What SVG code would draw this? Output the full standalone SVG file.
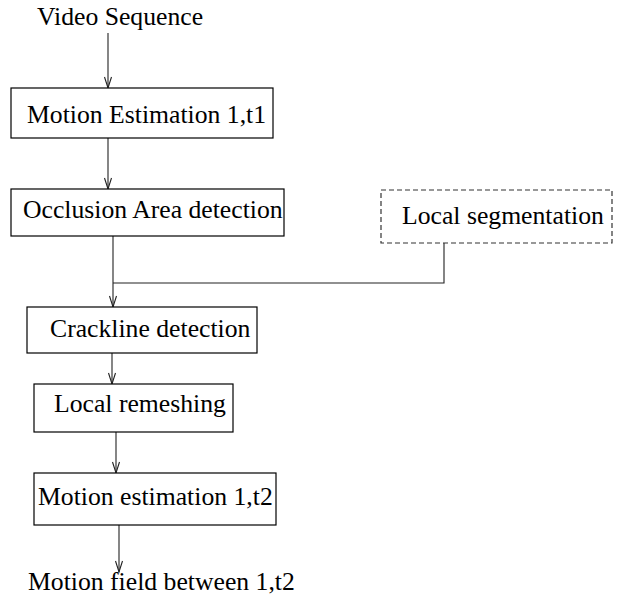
<svg xmlns="http://www.w3.org/2000/svg" width="620" height="605" viewBox="0 0 620 605">
<style>
  text { font-family: "Liberation Serif", "Times New Roman", serif; font-size: 25.7px; fill: #000; }
  .box { fill: #fff; stroke: #000; stroke-width: 1.2; }
  .dash { fill: #fff; stroke: #333; stroke-width: 1.2; stroke-dasharray: 5 3; }
  .conn { fill: none; stroke: #222; stroke-width: 1.1; }
</style>
<defs>
  <marker id="arr" markerUnits="userSpaceOnUse" viewBox="-12 -6 14 12" markerWidth="14" markerHeight="12" refX="0" refY="0" orient="auto" overflow="visible">
    <path d="M-11,-3.5 L0,0 L-11,3.5" fill="none" stroke="#222" stroke-width="1.1"/>
  </marker>
</defs>
<rect width="620" height="605" fill="#fff"/>
<g id="connectors">
  <line class="conn" x1="108" y1="33" x2="108" y2="88" marker-end="url(#arr)"/>
  <line class="conn" x1="108" y1="138" x2="108" y2="189" marker-end="url(#arr)"/>
  <line class="conn" x1="113" y1="236" x2="113" y2="307" marker-end="url(#arr)"/>
  <polyline class="conn" points="444,243 444,283 113,283"/>
  <line class="conn" x1="112" y1="353" x2="112" y2="384" marker-end="url(#arr)"/>
  <line class="conn" x1="116" y1="432" x2="116" y2="473" marker-end="url(#arr)"/>
  <line class="conn" x1="119" y1="525" x2="119" y2="572" marker-end="url(#arr)"/>
</g>
<g id="video-sequence">
  <text x="37" y="25">Video Sequence</text>
</g>
<g id="motion-estimation-1">
  <rect class="box" x="11" y="88" width="262" height="50"/>
  <text x="27" y="123">Motion Estimation 1,t1</text>
</g>
<g id="occlusion">
  <rect class="box" x="11" y="189" width="273" height="47"/>
  <text x="23" y="218">Occlusion Area detection</text>
</g>
<g id="local-segmentation">
  <rect class="dash" x="381" y="190" width="231" height="53"/>
  <text x="402" y="224">Local segmentation</text>
</g>
<g id="crackline">
  <rect class="box" x="27" y="307" width="230" height="46"/>
  <text x="50" y="337">Crackline detection</text>
</g>
<g id="local-remeshing">
  <rect class="box" x="34" y="384" width="199" height="48"/>
  <text x="54" y="412">Local remeshing</text>
</g>
<g id="motion-estimation-2">
  <rect class="box" x="34" y="473" width="242" height="52"/>
  <text x="38" y="505">Motion estimation 1,t2</text>
</g>
<g id="motion-field">
  <text x="28" y="590">Motion field between 1,t2</text>
</g>
</svg>
